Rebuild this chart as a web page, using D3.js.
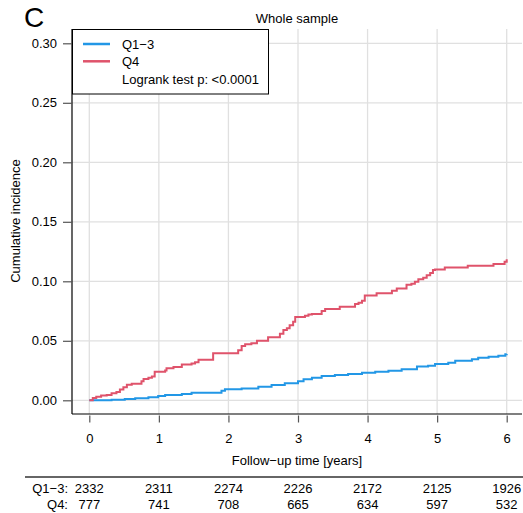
<!DOCTYPE html>
<html><head><meta charset="utf-8">
<script src="https://cdn.jsdelivr.net/npm/d3@7"></script>
<style>body{margin:0;background:#fff}svg{display:block;font-family:"Liberation Sans",Arial,sans-serif}</style>
</head><body><svg id="c" width="523" height="513"></svg>
<script>
const xTicks = [0,1,2,3,4,5,6];
const yTicks = [0,0.05,0.10,0.15,0.20,0.25,0.30];
const groups = ["Q1\u22123","Q4"];
const colors = ["#2297E6","#DF536B"];
const q13Time = [0,0.32,0.51,0.66,0.85,0.99,1.09,1.33,1.47,1.90,1.95,2.19,2.43,2.62,2.81,3.0,3.08,3.2,3.34,3.53,3.72,3.92,4.11,4.30,4.49,4.71,4.87,4.97,5.16,5.26,5.50,5.59,5.74,5.88,5.98,6.0];
const q13Value = [0,0.0005,0.001,0.0017,0.0025,0.0036,0.0045,0.0053,0.0064,0.008,0.0092,0.010,0.0114,0.0129,0.0143,0.016,0.0176,0.019,0.0204,0.0213,0.022,0.0232,0.024,0.0249,0.026,0.0283,0.029,0.0305,0.0316,0.0333,0.0344,0.0358,0.0366,0.0375,0.0387,0.039];
const q4Time = [0,0.05,0.1,0.17,0.25,0.32,0.39,0.44,0.49,0.54,0.61,0.75,0.78,0.85,0.90,0.94,1.09,1.11,1.21,1.33,1.47,1.52,1.57,1.78,2.14,2.19,2.24,2.33,2.41,2.57,2.74,2.79,2.84,2.88,2.93,2.96,3.10,3.15,3.20,3.34,3.39,3.60,3.82,3.87,3.92,3.96,4.13,4.35,4.42,4.56,4.63,4.68,4.73,4.80,4.85,4.90,4.94,4.97,5.11,5.44,5.81,5.97,6.0];
const q4Value = [0,0.002,0.003,0.004,0.0045,0.006,0.007,0.009,0.011,0.013,0.014,0.016,0.018,0.019,0.020,0.024,0.025,0.027,0.028,0.030,0.031,0.032,0.034,0.0395,0.042,0.0456,0.047,0.048,0.050,0.053,0.056,0.059,0.0605,0.063,0.066,0.070,0.071,0.072,0.0725,0.075,0.0767,0.0787,0.081,0.082,0.0837,0.088,0.090,0.092,0.094,0.097,0.098,0.0997,0.1017,0.103,0.105,0.107,0.1095,0.110,0.1117,0.113,0.1145,0.1165,0.1185];
const riskQ13 = [2332,2311,2274,2226,2172,2125,1926];
const riskQ4 = [777,741,708,665,634,597,532];

const svg = d3.select("#c");
const x = d3.scaleLinear().domain([0,6]).range([89.3,506.7]);
const y = d3.scaleLinear().domain([0,0.30]).range([400.3,43.3]);
const L=72, R=522, T=29, B=414;

// grid
const g = svg.append("g");
g.selectAll("line.v").data(xTicks).join("line").attr("x1",d=>x(d)).attr("x2",d=>x(d)).attr("y1",T).attr("y2",B).attr("stroke","#e0e0e0").attr("stroke-width",1.3);
g.selectAll("line.h").data(yTicks).join("line").attr("y1",d=>y(d)).attr("y2",d=>y(d)).attr("x1",L).attr("x2",R).attr("stroke","#e0e0e0").attr("stroke-width",1.3);

// curves
const line = d3.line().x(d=>x(d[0])).y(d=>y(d[1])).curve(d3.curveStepAfter);
const series = [d3.zip(q13Time,q13Value), d3.zip(q4Time,q4Value)];
series.forEach((s,i)=>{
  svg.append("path").attr("d",line(s)).attr("fill","none").attr("stroke",colors[i]).attr("stroke-width",2);
});

// axes lines
svg.append("line").attr("x1",L).attr("x2",L).attr("y1",T).attr("y2",B).attr("stroke","#000").attr("stroke-width",1.2);
svg.append("line").attr("x1",L).attr("x2",R).attr("y1",B).attr("y2",B).attr("stroke","#000").attr("stroke-width",1.2);

// y axis
const ya = svg.append("g").attr("transform",`translate(${L},0)`)
  .call(d3.axisLeft(y).tickValues(yTicks).tickFormat(d3.format(".2f")).tickSize(9).tickPadding(6));
ya.select(".domain").remove();
ya.selectAll(".tick line").attr("stroke","#555").attr("stroke-width",1.2);
ya.selectAll(".tick text").attr("font-size",13).attr("font-family","Liberation Sans, Arial, sans-serif").attr("fill","#000");

// x axis
const xa = svg.append("g").attr("transform",`translate(0,${B+1.5})`)
  .call(d3.axisBottom(x).tickValues(xTicks).tickFormat(d3.format("d")).tickSize(7).tickPadding(11));
xa.select(".domain").remove();
xa.selectAll(".tick line").attr("stroke","#555").attr("stroke-width",1.2);
xa.selectAll(".tick text").attr("font-size",13).attr("font-family","Liberation Sans, Arial, sans-serif").attr("fill","#000");

// titles
svg.append("text").attr("x",24).attr("y",27).attr("font-size",28).text("C");
svg.append("text").attr("x",297).attr("y",23).attr("text-anchor","middle").attr("font-size",13).text("Whole sample");
svg.append("text").attr("x",297).attr("y",465).attr("text-anchor","middle").attr("font-size",13).text("Follow\u2212up time [years]");
svg.append("text").attr("transform","translate(20,221) rotate(-90)").attr("text-anchor","middle").attr("font-size",13).text("Cumulative incidence");

// legend
svg.append("rect").attr("x",72.5).attr("y",29.5).attr("width",196).attr("height",64.5).attr("fill","#fff").attr("stroke","#000").attr("stroke-width",1);
groups.forEach((t,i)=>{
  const yy = 44 + i*17.3;
  svg.append("line").attr("x1",83).attr("x2",110).attr("y1",yy).attr("y2",yy).attr("stroke",colors[i]).attr("stroke-width",2.5);
  svg.append("text").attr("x",122).attr("y",yy+4.6).attr("font-size",13).text(t);
});
svg.append("text").attr("x",122).attr("y",83.5).attr("font-size",13).text("Logrank test p: <0.0001");

// risk table
svg.append("line").attr("x1",25).attr("x2",523).attr("y1",477).attr("y2",477).attr("stroke","#333").attr("stroke-width",1.5);
[[groups[0],riskQ13],[groups[1],riskQ4]].forEach(([lab,vals],i)=>{
  const yy = 492.5 + i*16.7;
  svg.append("text").attr("x",68).attr("y",yy).attr("text-anchor","end").attr("font-size",13).text(lab+":");
  svg.selectAll(null).data(vals).join("text").attr("x",(d,j)=>x(xTicks[j])).attr("y",yy).attr("text-anchor","middle").attr("font-size",13).text(d=>d);
});
</script></body></html>
